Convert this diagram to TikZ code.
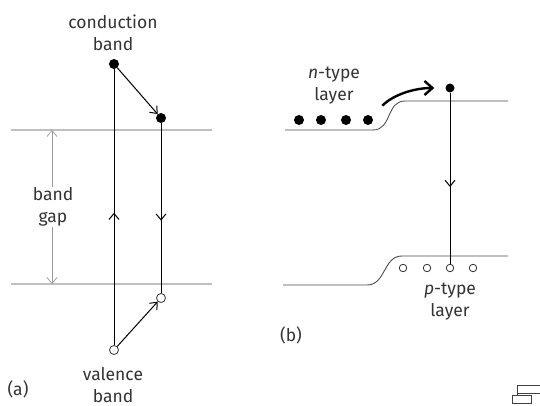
\documentclass[tikz,border=0pt]{standalone}
\usepackage{fontspec}
\setmainfont{Fira Sans}
\usetikzlibrary{arrows.meta, positioning, calc}

\begin{document}
\begin{tikzpicture}[
  x=1pt, y=-1pt,
  every node/.style={font=\fontsize{17.5}{22}\selectfont, text=black!80},
  lbl/.style={align=center, inner sep=1pt},
  edot/.style={circle, fill=black, inner sep=0pt, minimum size=10pt},
  hole/.style={circle, draw=black!80, fill=white, inner sep=0pt, minimum size=9pt, line width=0.8pt},
  band/.style={line width=2pt, black!25},
  level/.style={line width=0.9pt, black!70},
  wire/.style={line width=1pt},
  arrow/.style={line width=1pt, -{Straight Barb[length=6pt, width=10pt]}},
  gap/.style={line width=0.7pt, black!40, {Straight Barb[length=6pt, width=10pt]}-{Straight Barb[length=6pt, width=10pt]}},
  jump/.style={line width=2.4pt, -{Straight Barb[length=8pt, width=14pt]}},
]
\useasboundingbox (0,0) rectangle (540,406);

% Panel (a) — band gap
\draw[band] (11,130) coordinate (cbl) -- (212,130) coordinate (cbr);
\draw[band] (11,284) coordinate (vbl) -- (212,284) coordinate (vbr);
\coordinate (gtop) at (52,130);
\coordinate (gbot) at (52,284);
\draw[gap] (gtop) -- (gbot);
\node[lbl, fill=white] (gaptxt) at (53,207) {band\\gap};

\node[edot] (c1) at (114,64) {};
\node[edot] (c2) at (161,118) {};
\node[hole] (v1) at (114,350) {};
\node[hole] (v2) at (161,298) {};
\node[lbl] (cbtxt) at (113,33) {conduction\\band};
\node[lbl] (vbtxt) at (113,385) {valence\\band};
\node[lbl] (atxt) at (18,389) {(a)};

\draw[wire] (v1) -- (c1);
\draw[arrow] (v1) -- ($(v1)!0.48!(c1)$);
\draw[arrow] (c1) -- (c2);
\draw[wire] (c2) -- (v2);
\draw[arrow] (c2) -- ($(c2)!0.57!(v2)$);
\draw[arrow] (v1) -- (v2);

% Panel (b) — junction
\draw[level] (285,130) coordinate (nl) -- (373,130) .. controls (392,130) and (386,101) .. (405,101) -- (508,101) coordinate (nr);
\draw[level] (283,285) coordinate (pl) -- (367,285) .. controls (386,285) and (383,256) .. (402,256) -- (508,256) coordinate (pr);

\foreach \i/\x in {1/299, 2/321, 3/346, 4/368}
  \node[edot] (n\i) at (\x,120) {};
\foreach \i/\x in {1/403, 2/427, 3/450, 4/473}
  \node[hole, minimum size=7.5pt] (p\i) at (\x,268) {};
\node[edot, minimum size=9pt] (ec) at (450,88) {};

\node[lbl] (ntxt) at (334,86) {\textit{n}-type\\layer};
\node[lbl] (ptxt) at (450,302) {\textit{p}-type\\layer};
\node[lbl] (btxt) at (291,335) {(b)};

\draw[jump, shorten <=15pt, shorten >=11pt] (n4) to[out=45, in=180] (ec);
\draw[wire] (ec) -- (p3);
\draw[arrow] (ec) -- ($(ec)!0.55!(p3)$);

% corner icon
\draw[thick, black!75] (540,385) -- (517,385) -- (517,395);
\draw[thick, black!75] (517,393) -- (540,393);
\draw[thick, black!75, fill=white] (512,395) rectangle (531,403);
\end{tikzpicture}
\end{document}
